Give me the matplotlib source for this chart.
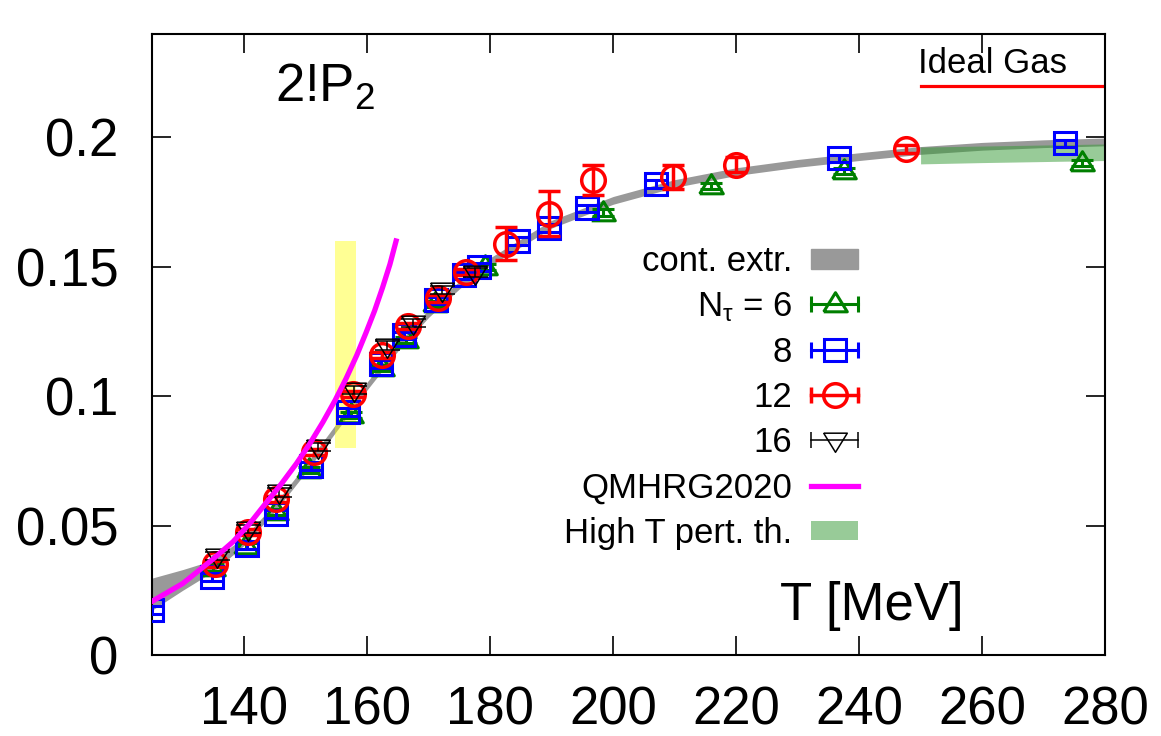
import matplotlib
matplotlib.use("Agg")
import matplotlib.pyplot as plt
from matplotlib.lines import Line2D
from matplotlib.patches import Patch
from matplotlib.legend_handler import HandlerBase
from matplotlib.container import ErrorbarContainer

plt.rcParams['font.family'] = ['Liberation Sans', 'DejaVu Sans']
plt.rcParams['mathtext.default'] = 'regular'

# continuum extrapolation band
T_band = [125, 130, 135, 140, 145, 150, 155, 160, 165, 170, 175, 180, 190,
          200, 210, 220, 230, 240, 250, 260, 270, 280]
band_mid = [0.0235, 0.029, 0.0345, 0.044, 0.057, 0.072, 0.088, 0.104, 0.119,
            0.132, 0.143, 0.152, 0.1665, 0.1757, 0.1822, 0.1868, 0.1900,
            0.1926, 0.1950, 0.1966, 0.1976, 0.1983]
band_hw = [0.0062, 0.004, 0.0022, 0.0016, 0.0015, 0.0015, 0.0015, 0.0015,
           0.0015, 0.0015, 0.0015, 0.0015, 0.0015, 0.0015, 0.0015, 0.0015,
           0.0015, 0.0015, 0.0015, 0.0015, 0.0015, 0.0015]

# high T perturbation theory band
T_pert = [250, 260, 270, 280]
pert_lo = [0.1898, 0.1903, 0.1907, 0.1911]
pert_hi = [0.1963, 0.1967, 0.1971, 0.1975]

# QMHRG2020
T_hrg = [125, 130, 135, 138.2, 140.9, 143.3, 146.0, 148.5, 150.7, 152.8, 154.8, 156.6,
         158.3, 159.8, 161.2, 162.5, 163.7, 164.7]
y_hrg = [0.0207, 0.0276, 0.0372, 0.0438, 0.0508, 0.0580, 0.0660, 0.0740, 0.0818, 0.0900,
         0.0985, 0.1070, 0.1158, 0.1245, 0.1330, 0.1420, 0.1510, 0.1600]

# N_tau = 6
T6 = [135.0, 140.3, 145.2, 150.6, 157.4, 162.4, 166.3, 171.1, 179.2, 198.4, 215.9, 237.6, 276.2]
y6 = [0.0338, 0.0420, 0.0553, 0.0714, 0.0927, 0.1110, 0.1216, 0.1355, 0.1500, 0.1710, 0.1812, 0.1870, 0.1900]
e6 = [0.0012] * len(T6)

# N_tau = 8
T8 = [125.0, 134.7, 140.4, 145.1, 150.8, 156.8, 162.3, 166.0, 171.2, 175.8, 178.2, 184.6,
      189.5, 195.7, 207.0, 236.8, 273.5]
y8 = [0.0174, 0.0301, 0.0425, 0.0546, 0.0730, 0.0940, 0.1125, 0.1235, 0.1370, 0.1467, 0.1500,
      0.1600, 0.1650, 0.1726, 0.1820, 0.1919, 0.1977]
e8 = [0.0015] * len(T8)

# N_tau = 12
T12 = [135.2, 140.6, 145.1, 151.4, 157.7, 162.4, 166.6, 171.5, 176.0, 182.5, 189.5, 196.8,
       209.8, 220.0, 247.6]
y12 = [0.0352, 0.0476, 0.0603, 0.0784, 0.1008, 0.1158, 0.1270, 0.1378, 0.1480, 0.1590, 0.1705,
       0.1834, 0.1847, 0.1895, 0.1956]
e12 = [0.0012, 0.0012, 0.0012, 0.0012, 0.0012, 0.0012, 0.0012, 0.0012, 0.0012, 0.0065, 0.0087,
       0.0058, 0.0045, 0.0030, 0.0015]

# N_tau = 16
T16 = [135.5, 140.6, 145.7, 152.0, 157.9, 163.3, 167.4, 172.2, 177.6]
y16 = [0.0383, 0.0488, 0.0628, 0.0803, 0.1025, 0.1196, 0.1284, 0.1410, 0.1478]
e16 = [0.0016] * len(T16)

# ideal gas limit and T_c band
T_ideal = [250, 280]
y_ideal = [0.22, 0.22]
Tc_lo, Tc_hi = 154.7, 158.1
Tc_ylo, Tc_yhi = 0.08, 0.16

TRI_UP = [(-1, -0.62), (1, -0.62), (0, 1.0), (-1, -0.62)]
TRI_DN = [(-1, 0.62), (1, 0.62), (0, -1.0), (-1, 0.62)]


class GnuErrHandler(HandlerBase):
    # gnuplot-like key entry: horizontal bar with end caps and the point in the middle
    def create_artists(self, legend, orig, xdescent, ydescent, width, height, fontsize, trans):
        ln = orig[0]
        c = ln.get_color()
        lw = ln.get_markeredgewidth()
        y = height / 2 - ydescent
        x0, x1 = -xdescent, width - xdescent
        bar = Line2D([x0, x1], [y, y], color=c, lw=lw)
        caps = Line2D([x0, x1], [y, y], ls='none', marker='|', ms=12, mew=lw, color=c)
        mk = Line2D([(x0 + x1) / 2], [y], ls='none', marker=ln.get_marker(),
                    ms=ln.get_markersize(), mfc='none', mec=c, mew=lw)
        for a in (bar, caps, mk):
            a.set_transform(trans)
        return [bar, caps, mk]


fig = plt.figure(figsize=(11.61, 7.36), dpi=100)
ax = fig.add_axes([0.1309, 0.1101, 0.8209, 0.8437])

ax.fill_between(T_band, [m - h for m, h in zip(band_mid, band_hw)],
                [m + h for m, h in zip(band_mid, band_hw)], color='#999999', lw=0, zorder=1)
ax.fill_between(T_pert, pert_lo, pert_hi, color='#339933', alpha=0.5, lw=0, zorder=2)
ax.plot(T_ideal, y_ideal, color='red', lw=2.3, zorder=2)
ax.fill_between([Tc_lo, Tc_hi], [Tc_ylo, Tc_ylo], [Tc_yhi, Tc_yhi], color='#ffff00',
                alpha=0.42, lw=0, zorder=2.5)

eb6 = ax.errorbar(T6, y6, yerr=e6, ls='none', marker=TRI_UP, ms=17, mfc='none',
                  mec='#007f00', mew=2.2, color='#007f00', elinewidth=2.2, capsize=8,
                  capthick=2.2, zorder=3)
eb8 = ax.errorbar(T8, y8, yerr=e8, ls='none', marker='s', ms=15.5, mfc='none',
                  mec='#0000ff', mew=2.2, color='#0000ff', elinewidth=2.2, capsize=7.5,
                  capthick=2.2, zorder=4)
eb12 = ax.errorbar(T12, y12, yerr=e12, ls='none', marker='o', ms=17, mfc='none',
                   mec='#ff0000', mew=2.5, color='#ff0000', elinewidth=2.5, capsize=8,
                   capthick=2.5, zorder=5)
eb16 = ax.errorbar(T16, y16, yerr=e16, ls='none', marker=TRI_DN, ms=17, mfc='none',
                   mec='black', mew=1.1, color='black', elinewidth=1.1, capsize=9,
                   capthick=1.1, zorder=6)

hrg, = ax.plot(T_hrg, y_hrg, color='#ff00ff', lw=3.8, zorder=8)

ax.set_xlim(125, 280)
ax.set_ylim(0, 0.24)
ax.set_xticks([140, 160, 180, 200, 220, 240, 260, 280])
ax.set_yticks([0, 0.05, 0.1, 0.15, 0.2])
ax.set_yticklabels(['0', '0.05', '0.1', '0.15', '0.2'])
ax.tick_params(direction='in', length=14, width=1.2, top=True, right=True, labelsize=38)
ax.tick_params(axis='x', pad=22)
ax.tick_params(axis='y', pad=24)
for s in ax.spines.values():
    s.set_linewidth(1.5)

ax.text(0.129, 0.8905, '2!P$_2$', transform=ax.transAxes, fontsize=38, va='baseline')
ax.text(0.659, 0.0564, 'T [MeV]', transform=ax.transAxes, fontsize=38, va='baseline')
ax.text(0.804, 0.937, 'Ideal Gas', transform=ax.transAxes, fontsize=25, va='baseline')

handles = [Patch(color='#999999'), eb6, eb8, eb12, eb16, hrg,
           Patch(color='#339933', alpha=0.5, lw=0)]
labels = ['cont. extr.', 'N$_τ$ = 6', '8', '12', '16', 'QMHRG2020', 'High T pert. th.']
ax.legend(handles, labels, loc='upper right', bbox_to_anchor=(0.741, 0.66),
          frameon=False, fontsize=25, markerfirst=False, borderpad=0, borderaxespad=0,
          handlelength=1.35, handletextpad=0.55, handleheight=0.5, labelspacing=0.35,
          handler_map={ErrorbarContainer: GnuErrHandler()})

fig.savefig('out.png', dpi=100)
